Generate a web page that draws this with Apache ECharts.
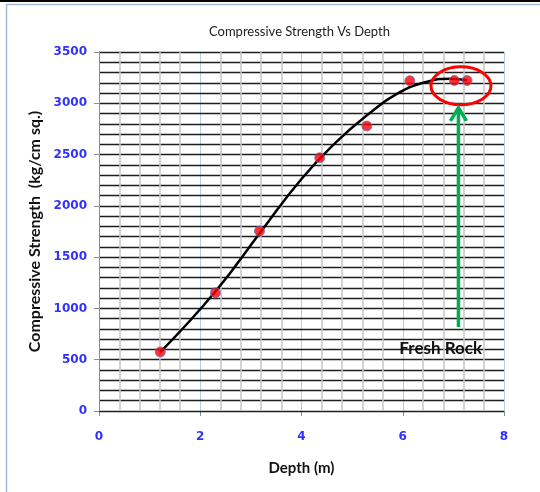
<!DOCTYPE html>
<html>
<head>
<meta charset="utf-8">
<script src="https://cdn.jsdelivr.net/npm/echarts@6/dist/echarts.min.js"></script>
<style>
  html, body { margin: 0; padding: 0; background: #fff; }
  #chart { width: 540px; height: 492px; }
</style>
</head>
<body>
<div id="chart"></div>
<script>
// measured points (depth m, strength kg/cm sq.)
const depth = [1.21, 2.3, 3.17, 4.36, 5.29, 6.14, 7.02, 7.27]
const strength = [575, 1153, 1754, 2469, 2778, 3220, 3222, 3222]

// trend line
const trendX = [1.21, 2.3, 3.2, 4.0, 4.7, 5.3, 5.9, 6.5, 6.95, 7.27]
const trendY = [575, 1165, 1750, 2262, 2628, 2885, 3096, 3212, 3240, 3225]

const xTicks = [0, 2, 4, 6, 8]
const yTicks = [0, 500, 1000, 1500, 2000, 2500, 3000, 3500]

// minor vertical gridlines, 5 per major step
const xMinor = []
for (let i = 0; i < xTicks.length - 1; i++) {
  for (let k = 1; k < 5; k++) xMinor.push(xTicks[i] + (xTicks[i + 1] - xTicks[i]) * k / 5)
}

const tickFont = {
  color: '#3030ff',
  fontFamily: 'DejaVu Sans',
  fontWeight: 'bold',
  fontSize: 12,
  formatter: v => String(v)
}
const titleFont = {
  color: '#111',
  fontFamily: 'Lato',
  fontWeight: 'bold'
}

const myChart = echarts.init(document.getElementById('chart'))

myChart.setOption({
  animation: false,
  title: {
    text: 'Compressive Strength Vs Depth',
    left: 204,
    top: 20,
    textStyle: {
      color: '#222',
      fontFamily: 'Lato',
      fontWeight: 'normal',
      fontSize: 13
    }
  },
  grid: {
    left: 99,
    right: 36,
    top: 52,
    bottom: 81
  },
  xAxis: {
    type: 'value',
    min: xTicks[0],
    max: xTicks[xTicks.length - 1],
    interval: 2,
    name: 'Depth (m)',
    nameLocation: 'middle',
    nameGap: 50,
    nameTextStyle: Object.assign({fontSize: 15}, titleFont),
    axisLine: {lineStyle: {color: '#8c8c8c', width: 1}},
    axisTick: {show: true, length: 5, lineStyle: {color: '#8c8c8c'}},
    axisLabel: Object.assign({margin: 20}, tickFont),
    splitLine: {show: true, lineStyle: {color: '#b8cce4', width: 1}}
  },
  yAxis: {
    type: 'value',
    z: 1,
    min: yTicks[0],
    max: yTicks[yTicks.length - 1],
    interval: 500,
    name: 'Compressive Strength  (kg/cm sq.)',
    nameLocation: 'middle',
    nameGap: 53,
    nameTextStyle: Object.assign({fontSize: 16}, titleFont),
    axisLine: {show: true, lineStyle: {color: '#8c8c8c', width: 1}},
    axisTick: {show: true, length: 5, lineStyle: {color: '#8c8c8c'}},
    axisLabel: Object.assign({margin: 12}, tickFont),
    splitLine: {show: true, lineStyle: {color: '#1e1e1e', width: 1.4}},
    minorTick: {show: false, splitNumber: 5},
    minorSplitLine: {show: true, lineStyle: {color: '#1e1e1e', width: 1.4}}
  },
  series: [
    {
      // carrier for the fine gray verticals
      name: 'grid',
      type: 'line',
      data: [],
      z: 0,
      silent: true,
      markLine: {
        z: 5,
        silent: true,
        symbol: 'none',
        label: {show: false},
        lineStyle: {color: '#c6c6c6', width: 1.5, type: 'solid'},
        data: xMinor.map(v => ({xAxis: v}))
      }
    },
    {
      name: 'trend',
      type: 'line',
      data: trendX.map((x, i) => [x, trendY[i]]),
      smooth: true,
      showSymbol: false,
      lineStyle: {color: '#000', width: 2.5},
      z: 6
    },
    {
      name: 'measured',
      type: 'scatter',
      data: depth.map((x, i) => [x, strength[i]]),
      symbolSize: 10,
      itemStyle: {color: '#ff0000', borderColor: '#5a78c8', borderWidth: 1},
      z: 7
    }
  ]
})

// annotations placed from data coordinates
const px = (x, y) => myChart.convertToPixel({gridIndex: 0}, [x, y])
const ring = px(7.15, 3170)
const arrowTop = px(7.1, 2955)
const arrowBottom = px(7.1, 820)
const label = px(6.75, 610)

myChart.setOption({
  graphic: [
    {type: 'line', shape: {x1: 0, y1: 1, x2: 540, y2: 1}, style: {stroke: '#000', lineWidth: 2}, silent: true},
    {type: 'rect', shape: {x: 6.5, y: 4.5, width: 560, height: 520}, style: {fill: 'none', stroke: '#a8b8d8', lineWidth: 1.5}, silent: true},
    {
      type: 'ellipse', z: 100,
      shape: {cx: ring[0], cy: ring[1], rx: 30, ry: 19},
      style: {fill: 'none', stroke: '#ff0000', lineWidth: 3}
    },
    {
      type: 'line', z: 100,
      shape: {x1: arrowTop[0], y1: arrowTop[1] + 2, x2: arrowBottom[0], y2: arrowBottom[1]},
      style: {stroke: '#00b050', lineWidth: 3.5}
    },
    {
      type: 'polyline', z: 100,
      shape: {points: [[arrowTop[0] - 8, arrowTop[1] + 13], [arrowTop[0], arrowTop[1]], [arrowTop[0] + 8, arrowTop[1] + 13]]},
      style: {fill: 'none', stroke: '#00b050', lineWidth: 3.5}
    },
    {
      type: 'text', z: 100,
      x: label[0], y: label[1],
      style: {
        text: 'Fresh Rock',
        fill: '#111',
        font: 'bold 17px Lato',
        align: 'center',
        verticalAlign: 'middle'
      }
    }
  ]
})
</script>
</body>
</html>
